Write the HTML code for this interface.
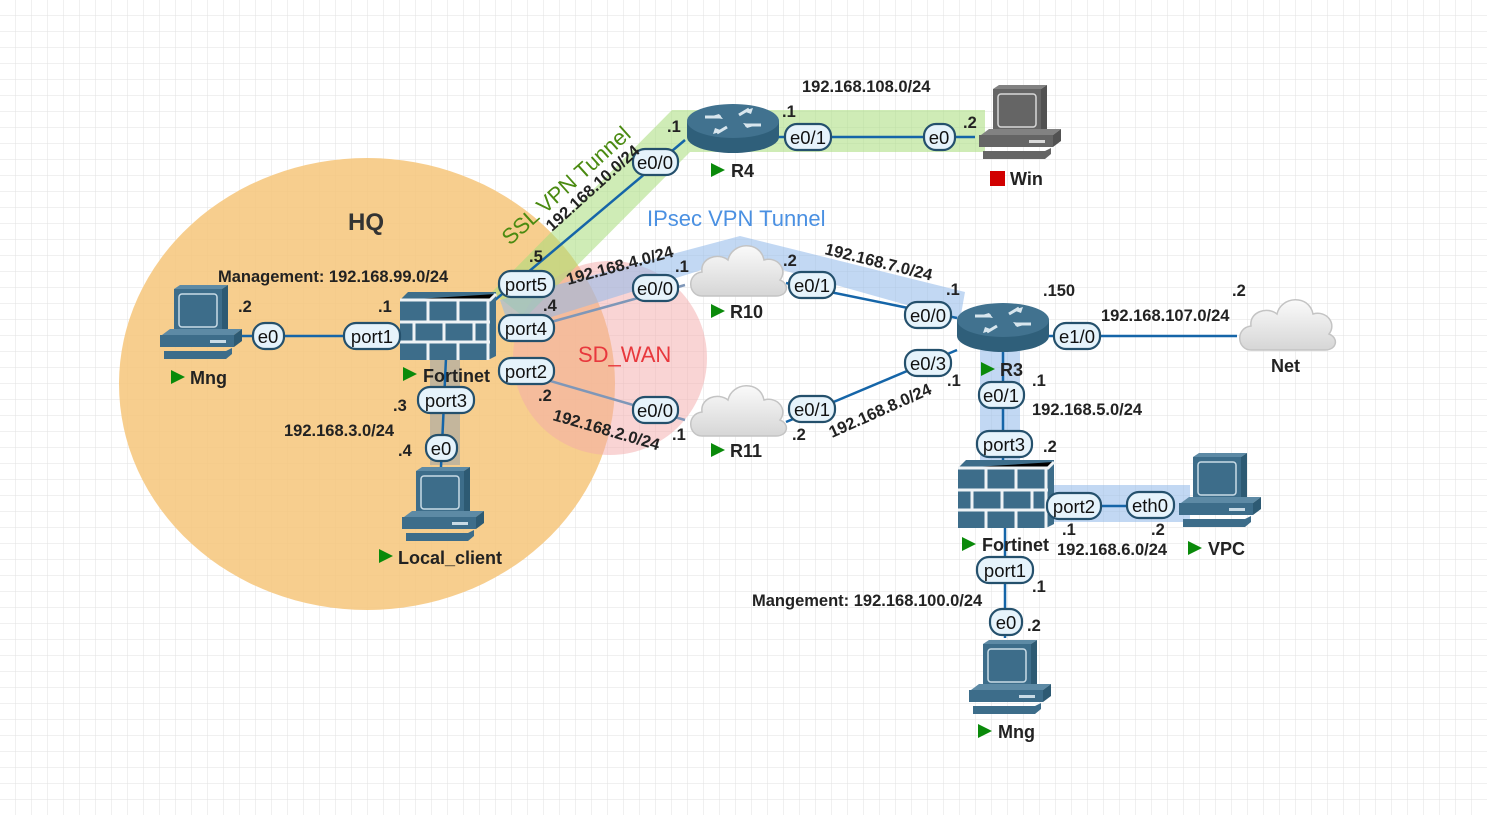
<!DOCTYPE html>
<html><head><meta charset="utf-8"><style>
html,body{margin:0;padding:0;background:#fff;}
svg{display:block;font-family:"Liberation Sans",Arial,sans-serif;}
.b{font-weight:bold;fill:#222;font-size:16.5px;}
.n{font-weight:bold;fill:#222;font-size:18px;}
.pt{font-size:18.5px;fill:#111;text-anchor:middle;}
</style></head><body>
<svg width="1487" height="815" viewBox="0 0 1487 815" xmlns="http://www.w3.org/2000/svg">
<defs>
<pattern id="g" width="16" height="16" patternUnits="userSpaceOnUse">
<path d="M16 0V16H0" fill="none" stroke="#e2e2e2" stroke-width="1"/>
</pattern>
<g id="pc">
<path d="M18 4 L24 0 L72 0 L66 4 Z" fill="#5d8aa5"/>
<path d="M66 4 L72 0 L72 44 L66 50 Z" fill="#2d5a73"/>
<rect x="18" y="4" width="48" height="46" fill="#3d6d8a"/>
<rect x="23" y="9" width="38" height="33" rx="3" fill="#3d6d8a" stroke="#c9dbe6" stroke-width="1.5"/>
<path d="M6 50 L14 44 L86 44 L78 50 Z" fill="#5d8aa5"/>
<path d="M78 50 L86 44 L86 56 L78 62 Z" fill="#2d5a73"/>
<rect x="4" y="50" width="74" height="12" fill="#3d6d8a"/>
<rect x="54" y="55" width="16" height="3" fill="#c9dbe6"/>
<path d="M8 66 L70 66 L76 63 L76 69 L70 74 L8 74 Z" fill="#3d6d8a"/>
</g>
<g id="router">
<path d="M0 28 L0 44 A46 16 0 0 0 92 44 L92 28 Z" fill="#2f5f7a"/>
<ellipse cx="46" cy="28" rx="46" ry="17" fill="#41728f"/>
<path d="M22 24 l14 2 -4 -5z M70 32 l-14 -2 4 5z M56 18 l10 -3 -2 6z M36 38 l-10 3 2 -6z" fill="#d8e6ee"/>
<path d="M18 24 L34 24 M74 32 L58 32 M52 22 L62 16 M40 34 L30 40" stroke="#d8e6ee" stroke-width="3"/>
</g>
<g id="fw">
<path d="M0 8 L8 0 L96 0 L96 64 L88 68 L0 68Z" fill="#3d6d8a"/>
<g stroke="#eef3f6" stroke-width="3">
<path d="M0 8 H90 L96 2 M0 30 H90 M0 50 H90 M88 8 V68"/>
<path d="M28 8 V30 M58 8 V30 M14 30 V50 M44 30 V50 M74 30 V50 M28 50 V68 M58 50 V68"/>
</g>
</g>
<linearGradient id="cg" x1="0" y1="0" x2="0" y2="1"><stop offset="0" stop-color="#fafafa"/><stop offset="1" stop-color="#d6d6d6"/></linearGradient>
<g id="cloud">
<path d="M14 58 C0 58 -2 36 14 34 C12 20 30 14 40 22 C44 4 72 2 76 22 C90 18 100 32 92 42 C102 46 100 58 88 58 Z" fill="url(#cg)" stroke="#c4c4c4" stroke-width="1.5"/>
</g>
</defs>
<rect width="1487" height="815" fill="url(#g)"/>

<ellipse cx="367" cy="384" rx="248" ry="226" fill="#f6c57a" opacity="0.85"/>
<circle cx="610" cy="358" r="97" fill="#f4a9a9" opacity="0.5"/>
<path d="M492 292 L672 110 L985 110 L985 152 L690 152 L525 318 Z" fill="#a8dd7a" opacity="0.55"/>
<path d="M500 300 L740 236 L965 292 L960 320 L740 258 L510 330 Z" fill="#8fb8ea" opacity="0.55"/>
<path d="M980 350 L1020 350 L1020 485 L1190 485 L1190 522 L1050 522 L1050 470 L980 470 Z" fill="#8fb8ea" opacity="0.55"/>
<rect x="430" y="355" width="30" height="110" fill="#9aa3a8" opacity="0.55"/>

<g stroke="#1565a8" stroke-width="2.5" fill="none">
<path d="M242 336 H400"/>
<path d="M495 300 L685 140"/>
<path d="M778 137 H975"/>
<path d="M786 283 L957 318"/>
<path d="M786 422 L957 350"/>
<path d="M1048 336 H1237"/>
<path d="M1003 352 V462"/>
<path d="M1052 506 H1175"/>
<path d="M1005 528 V638"/>
<path d="M446 358 L441 467"/>
</g>
<g stroke="#7f97b8" stroke-width="2.5" fill="none">
<path d="M540 325 L685 285"/>
<path d="M540 378 L685 420"/>
</g>

<use href="#pc" x="156" y="285"/>
<use href="#fw" x="400" y="292"/>
<use href="#pc" x="398" y="467"/>
<use href="#router" x="687" y="93"/>
<g transform="translate(975,85)"><use href="#pc" style="filter:grayscale(1)"/></g>
<use href="#cloud" x="688" y="238"/>
<use href="#cloud" x="688" y="378"/>
<use href="#router" x="957" y="292"/>
<use href="#cloud" x="1237" y="292"/>
<use href="#fw" x="958" y="460"/>
<use href="#pc" x="1175" y="453"/>
<use href="#pc" x="965" y="640"/>

<g class="n">
<path d="M171 370 l14 7 -14 7z" fill="#0a8a0a"/><text x="190" y="384">Mng</text>
<path d="M403 367 l14 7 -14 7z" fill="#0a8a0a"/><text x="423" y="382">Fortinet</text>
<path d="M379 549 l14 7 -14 7z" fill="#0a8a0a"/><text x="398" y="564">Local_client</text>
<path d="M711 163 l14 7 -14 7z" fill="#0a8a0a"/><text x="731" y="177">R4</text>
<rect x="990" y="171" width="15" height="15" fill="#d10000"/><text x="1010" y="185">Win</text>
<path d="M711 304 l14 7 -14 7z" fill="#0a8a0a"/><text x="730" y="318">R10</text>
<path d="M711 443 l14 7 -14 7z" fill="#0a8a0a"/><text x="730" y="457">R11</text>
<path d="M981 362 l14 7 -14 7z" fill="#0a8a0a"/><text x="1000" y="376">R3</text>
<text x="1271" y="372">Net</text>
<path d="M962 537 l14 7 -14 7z" fill="#0a8a0a"/><text x="982" y="551">Fortinet</text>
<path d="M1188 541 l14 7 -14 7z" fill="#0a8a0a"/><text x="1208" y="555">VPC</text>
<path d="M978 724 l14 7 -14 7z" fill="#0a8a0a"/><text x="998" y="738">Mng</text>
</g>

<g fill="#e6f3fb" stroke="#24506c" stroke-width="2.2">
<rect x="253" y="323" width="31" height="26" rx="12"/>
<rect x="344" y="323" width="56" height="26" rx="12"/>
<rect x="499" y="271" width="55" height="26" rx="12"/>
<rect x="499" y="315" width="55" height="26" rx="12"/>
<rect x="499" y="358" width="55" height="26" rx="12"/>
<rect x="418" y="387" width="56" height="26" rx="12"/>
<rect x="426" y="435" width="31" height="26" rx="12"/>
<rect x="633" y="149" width="45" height="26" rx="12"/>
<rect x="785" y="124" width="46" height="26" rx="12"/>
<rect x="924" y="124" width="31" height="26" rx="12"/>
<rect x="633" y="275" width="45" height="26" rx="12"/>
<rect x="789" y="272" width="46" height="26" rx="12"/>
<rect x="905" y="302" width="46" height="26" rx="12"/>
<rect x="905" y="350" width="46" height="26" rx="12"/>
<rect x="633" y="397" width="45" height="26" rx="12"/>
<rect x="789" y="396" width="46" height="26" rx="12"/>
<rect x="1054" y="323" width="46" height="26" rx="12"/>
<rect x="979" y="382" width="45" height="26" rx="12"/>
<rect x="977" y="431" width="55" height="26" rx="12"/>
<rect x="1047" y="493" width="54" height="26" rx="12"/>
<rect x="1127" y="492" width="47" height="26" rx="12"/>
<rect x="977" y="557" width="56" height="26" rx="12"/>
<rect x="990" y="609" width="32" height="26" rx="12"/>
</g>
<g class="pt">
<text x="268" y="343">e0</text>
<text x="372" y="343">port1</text>
<text x="526" y="291">port5</text>
<text x="526" y="335">port4</text>
<text x="526" y="378">port2</text>
<text x="446" y="407">port3</text>
<text x="441" y="455">e0</text>
<text x="655" y="169">e0/0</text>
<text x="808" y="144">e0/1</text>
<text x="939" y="144">e0</text>
<text x="655" y="295">e0/0</text>
<text x="812" y="292">e0/1</text>
<text x="928" y="322">e0/0</text>
<text x="928" y="370">e0/3</text>
<text x="655" y="417">e0/0</text>
<text x="812" y="416">e0/1</text>
<text x="1077" y="343">e1/0</text>
<text x="1001" y="402">e0/1</text>
<text x="1004" y="451">port3</text>
<text x="1074" y="513">port2</text>
<text x="1150" y="512">eth0</text>
<text x="1005" y="577">port1</text>
<text x="1006" y="629">e0</text>
</g>

<text x="348" y="230" style="font-weight:bold;font-size:24px;fill:#333">HQ</text>
<text x="578" y="362" style="font-size:22px;fill:#e8383d">SD_WAN</text>
<text x="647" y="226" style="font-size:22px;fill:#4a90e2">IPsec VPN Tunnel</text>
<text transform="translate(510,246) rotate(-42)" style="font-size:22px;fill:#4a8a10">SSL VPN Tunnel</text>
<g class="b">
<text transform="translate(552,232) rotate(-42)">192.168.10.0/24</text>
<text x="218" y="282">Management: 192.168.99.0/24</text>
<text x="238" y="312">.2</text>
<text x="378" y="312">.1</text>
<text x="529" y="262">.5</text>
<text x="543" y="311">.4</text>
<text x="538" y="401">.2</text>
<text x="393" y="411">.3</text>
<text x="284" y="436">192.168.3.0/24</text>
<text x="398" y="456">.4</text>
<text x="667" y="132">.1</text>
<text x="782" y="117">.1</text>
<text x="802" y="92">192.168.108.0/24</text>
<text x="963" y="128">.2</text>
<text transform="translate(568,285) rotate(-15)">192.168.4.0/24</text>
<text x="675" y="272">.1</text>
<text x="783" y="266">.2</text>
<text transform="translate(824,254) rotate(14)">192.168.7.0/24</text>
<text x="946" y="295">.1</text>
<text x="1043" y="296">.150</text>
<text x="1232" y="296">.2</text>
<text x="1101" y="321">192.168.107.0/24</text>
<text transform="translate(552,420) rotate(16)">192.168.2.0/24</text>
<text x="672" y="440">.1</text>
<text x="792" y="440">.2</text>
<text transform="translate(832,438) rotate(-24)">192.168.8.0/24</text>
<text x="947" y="386">.1</text>
<text x="1032" y="386">.1</text>
<text x="1032" y="415">192.168.5.0/24</text>
<text x="1043" y="452">.2</text>
<text x="1062" y="535">.1</text>
<text x="1151" y="535">.2</text>
<text x="1057" y="555">192.168.6.0/24</text>
<text x="1032" y="592">.1</text>
<text x="752" y="606">Mangement: 192.168.100.0/24</text>
<text x="1027" y="631">.2</text>
</g>
</svg>
</body></html>
